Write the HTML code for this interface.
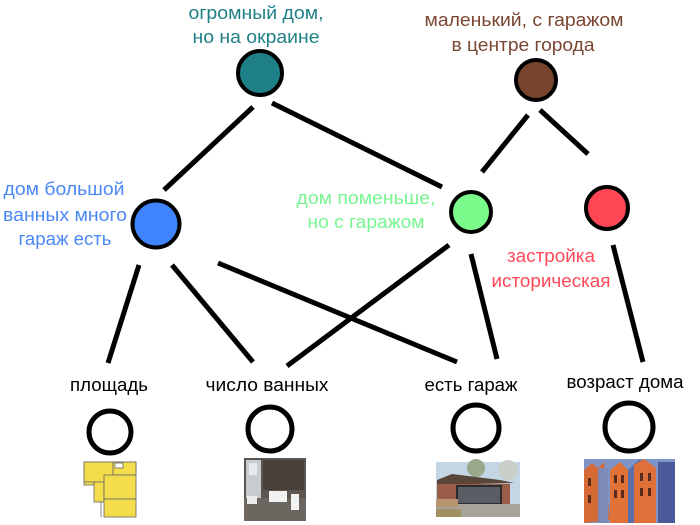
<!DOCTYPE html>
<html><head><meta charset="utf-8"><style>
html,body{margin:0;padding:0;background:#fff;}
svg{display:block;}
text{font-family:"Liberation Sans","DejaVu Sans",sans-serif;font-size:18.5px;}
</style></head><body>
<svg width="700" height="525" viewBox="0 0 700 525" xmlns="http://www.w3.org/2000/svg">
<rect width="700" height="525" fill="#fff"/>
<!-- lines -->
<g stroke="#000" stroke-width="5" stroke-linecap="butt">
<line x1="253" y1="107" x2="164" y2="190"/>
<line x1="272" y1="103" x2="442" y2="187"/>
<line x1="528" y1="115" x2="482" y2="172"/>
<line x1="540" y1="110" x2="588" y2="154"/>
<line x1="449" y1="245" x2="287" y2="366"/>
<line x1="471" y1="254" x2="497" y2="359"/>
<line x1="613" y1="245" x2="643" y2="362"/>
<line x1="139" y1="265" x2="108" y2="363"/>
<line x1="172" y1="265" x2="253" y2="362"/>
<line x1="218" y1="263" x2="457" y2="362"/>
</g>
<!-- circles -->
<g stroke="#000" stroke-width="4">
<circle cx="260" cy="73" r="22" fill="#1f7f87"/>
<circle cx="536" cy="80" r="20" fill="#77442e"/>
<circle cx="156" cy="224" r="23.5" fill="#3f84fc"/>
<circle cx="471" cy="212" r="20" fill="#7afb8c"/>
<circle cx="607" cy="208" r="21" fill="#ff4654"/>
</g>
<g stroke="#000" stroke-width="5" fill="#fff">
<circle cx="110" cy="432" r="21"/>
<circle cx="270" cy="429" r="22"/>
<circle cx="476" cy="428" r="23"/>
<circle cx="629" cy="427" r="24"/>
</g>
<!-- labels -->
<g text-anchor="middle">
<text x="256" y="19" fill="#1f8087" textLength="135" lengthAdjust="spacingAndGlyphs">огромный дом,</text>
<text x="256" y="43" fill="#1f8087" textLength="127" lengthAdjust="spacingAndGlyphs">но на окраине</text>
<text x="524" y="26" fill="#7a4632" textLength="199" lengthAdjust="spacingAndGlyphs">маленький, с гаражом</text>
<text x="523" y="51" fill="#7a4632" textLength="143" lengthAdjust="spacingAndGlyphs">в центре города</text>
<text x="64" y="195" fill="#4a88f5" textLength="121" lengthAdjust="spacingAndGlyphs">дом большой</text>
<text x="65" y="221" fill="#4a88f5" textLength="124" lengthAdjust="spacingAndGlyphs">ванных много</text>
<text x="65" y="245" fill="#4a88f5" textLength="93" lengthAdjust="spacingAndGlyphs">гараж есть</text>
<text x="366" y="204" fill="#78f590" textLength="139" lengthAdjust="spacingAndGlyphs">дом поменьше,</text>
<text x="366" y="228" fill="#78f590" textLength="117" lengthAdjust="spacingAndGlyphs">но с гаражом</text>
<text x="551" y="262" fill="#ff4858" textLength="88" lengthAdjust="spacingAndGlyphs">застройка</text>
<text x="551" y="287" fill="#ff4858" textLength="119" lengthAdjust="spacingAndGlyphs">историческая</text>
<text x="109" y="391" fill="#000" textLength="78" lengthAdjust="spacingAndGlyphs">площадь</text>
<text x="267" y="391" fill="#000" textLength="123" lengthAdjust="spacingAndGlyphs">число ванных</text>
<text x="471" y="391" fill="#000" textLength="93" lengthAdjust="spacingAndGlyphs">есть гараж</text>
<text x="625" y="388" fill="#000" textLength="117" lengthAdjust="spacingAndGlyphs">возраст дома</text>
</g>
<!-- floor plan -->
<g stroke="#666" stroke-width="0.8">
<rect x="84" y="462" width="52" height="13" fill="#f3dd4a"/>
<rect x="84" y="462" width="29" height="20" fill="#f3dd4a"/>
<rect x="113" y="462" width="23" height="13" fill="#f3dd4a"/>
<rect x="94" y="482" width="10" height="20" fill="#f3dd4a"/>
<rect x="104" y="475" width="32" height="24" fill="#f3dd4a"/>
<rect x="104" y="499" width="32" height="18" fill="#f3dd4a"/>
<rect x="84" y="482" width="10" height="3" fill="#f3dd4a"/>
<line x1="101" y1="502" x2="101" y2="517"/>
<rect x="115" y="463" width="8" height="5" fill="#fff"/>
</g>
<!-- bathroom -->
<g>
<rect x="244" y="458" width="62" height="63" fill="#5c5550"/>
<rect x="263" y="460" width="41" height="30" fill="#4a403a"/>
<rect x="246" y="460" width="15" height="40" fill="#c8ccd0"/>
<rect x="249" y="463" width="8" height="12" fill="#e8ecee"/>
<rect x="244" y="498" width="62" height="23" fill="#6b6660"/>
<rect x="269" y="491" width="18" height="11" fill="#f2f2f2"/>
<rect x="291" y="494" width="8" height="16" fill="#f2f2f2"/>
<rect x="247" y="496" width="10" height="8" fill="#eaeaea"/>
</g>
<!-- garage -->
<g>
<rect x="436" y="462" width="84" height="55" fill="#c2d6e6"/>
<circle cx="476" cy="468" r="9" fill="#9aa88a"/>
<circle cx="508" cy="470" r="10" fill="#c9cfc8"/>
<polygon points="437,480 452,474 500,480 514,483 437,485" fill="#5a4638"/>
<rect x="437" y="484" width="73" height="22" fill="#9a5e48"/>
<rect x="456" y="485" width="46" height="20" fill="#2c2c30"/>
<rect x="458" y="487" width="42" height="16" fill="#5a5e64"/>
<rect x="436" y="504" width="84" height="13" fill="#a8a39a"/>
<rect x="436" y="499" width="22" height="8" fill="#b8956e"/>
<rect x="436" y="509" width="25" height="8" fill="#a29060"/>
</g>
<!-- buildings -->
<g>
<rect x="584" y="459" width="91" height="64" fill="#7f95c8"/>
<polygon points="584,470 592,463 598,468 604,462 610,520 584,523" fill="#d66a35"/>
<polygon points="610,470 620,462 628,470 628,523 610,523" fill="#e07238"/>
<polygon points="628,470 640,459 650,468 652,523 628,523" fill="#5a6ea8"/>
<polygon points="634,465 644,459 656,468 656,523 634,523" fill="#e0703a"/>
<rect x="658" y="462" width="17" height="61" fill="#4a5a9a"/>
<rect x="598" y="468" width="10" height="55" fill="#7d8ab8"/>
<g fill="#5a2a1a">
<rect x="614" y="475" width="3" height="8"/><rect x="621" y="475" width="3" height="8"/>
<rect x="614" y="490" width="3" height="8"/><rect x="621" y="490" width="3" height="8"/>
<rect x="640" y="473" width="3" height="8"/><rect x="648" y="473" width="3" height="8"/>
<rect x="640" y="488" width="3" height="8"/><rect x="648" y="488" width="3" height="8"/>
<rect x="588" y="478" width="3" height="8"/><rect x="588" y="495" width="3" height="8"/>
</g>
</g>
</svg>
</body></html>
